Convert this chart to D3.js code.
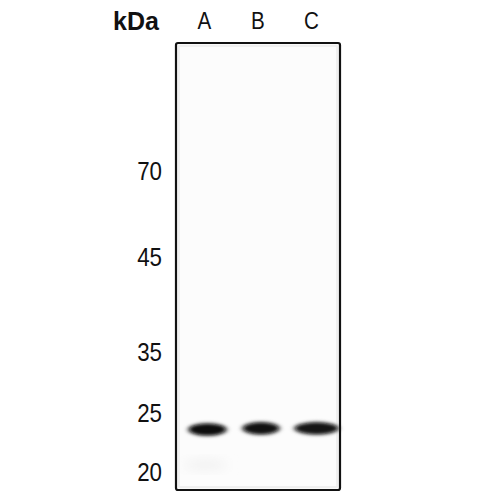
<!DOCTYPE html>
<html>
<head>
<meta charset="utf-8">
<script src="https://cdn.jsdelivr.net/npm/d3@7"></script>
<style>
  body { margin: 0; background: #fff; }
  svg { display: block; }
</style>
</head>
<body>
<div id="blot"></div>
<script>
// marker ladder (kDa) and lanes
let markers = [70, 45, 35, 25, 20];
let lanes = ["A", "B", "C"];
// detected band per lane: apparent size (kDa), darkness, spread
let bandKDa = [23.6, 23.7, 23.7];
let bandStrength = [1.0, 0.97, 0.95];
let bandSpread = [0.74, 0.72, 0.86];

let width = 500, height = 500;
let frame = {left: 176, right: 340, top: 43, bottom: 490};

let svg = d3.select("#blot").append("svg")
  .attr("width", width)
  .attr("height", height);

let defs = svg.append("defs");
defs.append("filter").attr("id", "blur")
  .attr("x", "-30%").attr("y", "-100%").attr("width", "160%").attr("height", "300%")
  .append("feGaussianBlur").attr("stdDeviation", "2 1.6");
defs.append("filter").attr("id", "softblur")
  .attr("x", "-50%").attr("y", "-50%").attr("width", "200%").attr("height", "200%")
  .append("feGaussianBlur").attr("stdDeviation", 6);

let y = d3.scaleLinear()
  .domain(markers)
  .range([171, 257, 352, 413, 472]);

let x = d3.scaleBand()
  .domain(lanes)
  .range([frame.left + 4, frame.right - 2])
  .paddingInner(0.05);

// membrane background
svg.append("rect")
  .attr("x", frame.left).attr("y", frame.top)
  .attr("width", frame.right - frame.left).attr("height", frame.bottom - frame.top)
  .attr("fill", "#f9f9f9");
svg.append("rect")
  .attr("x", frame.left + 3).attr("y", frame.top + 3)
  .attr("width", frame.right - frame.left - 6).attr("height", frame.bottom - frame.top - 6)
  .attr("fill", "#fcfcfc").attr("stroke", "#ececec").attr("stroke-width", 1.5);

// faint smear under lane A
svg.append("ellipse")
  .attr("cx", x("A") + x.bandwidth() / 2)
  .attr("cy", y(20.6))
  .attr("rx", 22).attr("ry", 5)
  .attr("fill", "#f0f0f0")
  .attr("filter", "url(#softblur)");

// bands
let bands = svg.append("g").attr("id", "bands");
bands.selectAll("ellipse.halo").data(lanes).enter().append("ellipse")
  .attr("class", "halo")
  .attr("cx", (d, i) => x(d) + x.bandwidth() / 2 + (i === 2 ? 4 : 2))
  .attr("cy", (d, i) => y(bandKDa[i]))
  .attr("rx", (d, i) => x.bandwidth() * bandSpread[i] / 2 + 2)
  .attr("ry", 7.5)
  .attr("fill", "#666")
  .attr("opacity", (d, i) => 0.55 * bandStrength[i])
  .attr("filter", "url(#blur)");
bands.selectAll("ellipse.core").data(lanes).enter().append("ellipse")
  .attr("class", "core")
  .attr("cx", (d, i) => x(d) + x.bandwidth() / 2 + (i === 2 ? 4 : 2))
  .attr("cy", (d, i) => y(bandKDa[i]))
  .attr("rx", (d, i) => x.bandwidth() * bandSpread[i] / 2 - 1)
  .attr("ry", 5.6)
  .attr("fill", "#111")
  .attr("opacity", (d, i) => bandStrength[i])
  .attr("filter", "url(#blur)");

// frame
svg.append("rect")
  .attr("x", frame.left).attr("y", frame.top)
  .attr("width", frame.right - frame.left).attr("height", frame.bottom - frame.top)
  .attr("rx", 2)
  .attr("fill", "none").attr("stroke", "#111").attr("stroke-width", 2.2);

// marker labels
svg.append("g").selectAll("text").data(markers).enter().append("text")
  .attr("transform", d => `translate(162, ${y(d)}) scale(0.86, 1)`)
  .attr("text-anchor", "end")
  .attr("dy", "0.36em")
  .style("font-family", "Liberation Sans, Arial, sans-serif")
  .style("font-size", "26px")
  .style("fill", "#111")
  .text(d => d);

// lane labels
svg.append("g").selectAll("text").data(lanes).enter().append("text")
  .attr("transform", d => `translate(${x(d) + x.bandwidth() / 2 - 1}, 29) scale(0.86, 1)`)
  .attr("text-anchor", "middle")
  .style("font-family", "Liberation Sans, Arial, sans-serif")
  .style("font-size", "24px")
  .style("fill", "#111")
  .text(d => d);

svg.append("text")
  .attr("x", 113).attr("y", 30)
  .style("font-family", "Liberation Sans, Arial, sans-serif")
  .style("font-size", "25px")
  .style("font-weight", "bold")
  .style("fill", "#111")
  .text("kDa");
</script>
</body>
</html>
